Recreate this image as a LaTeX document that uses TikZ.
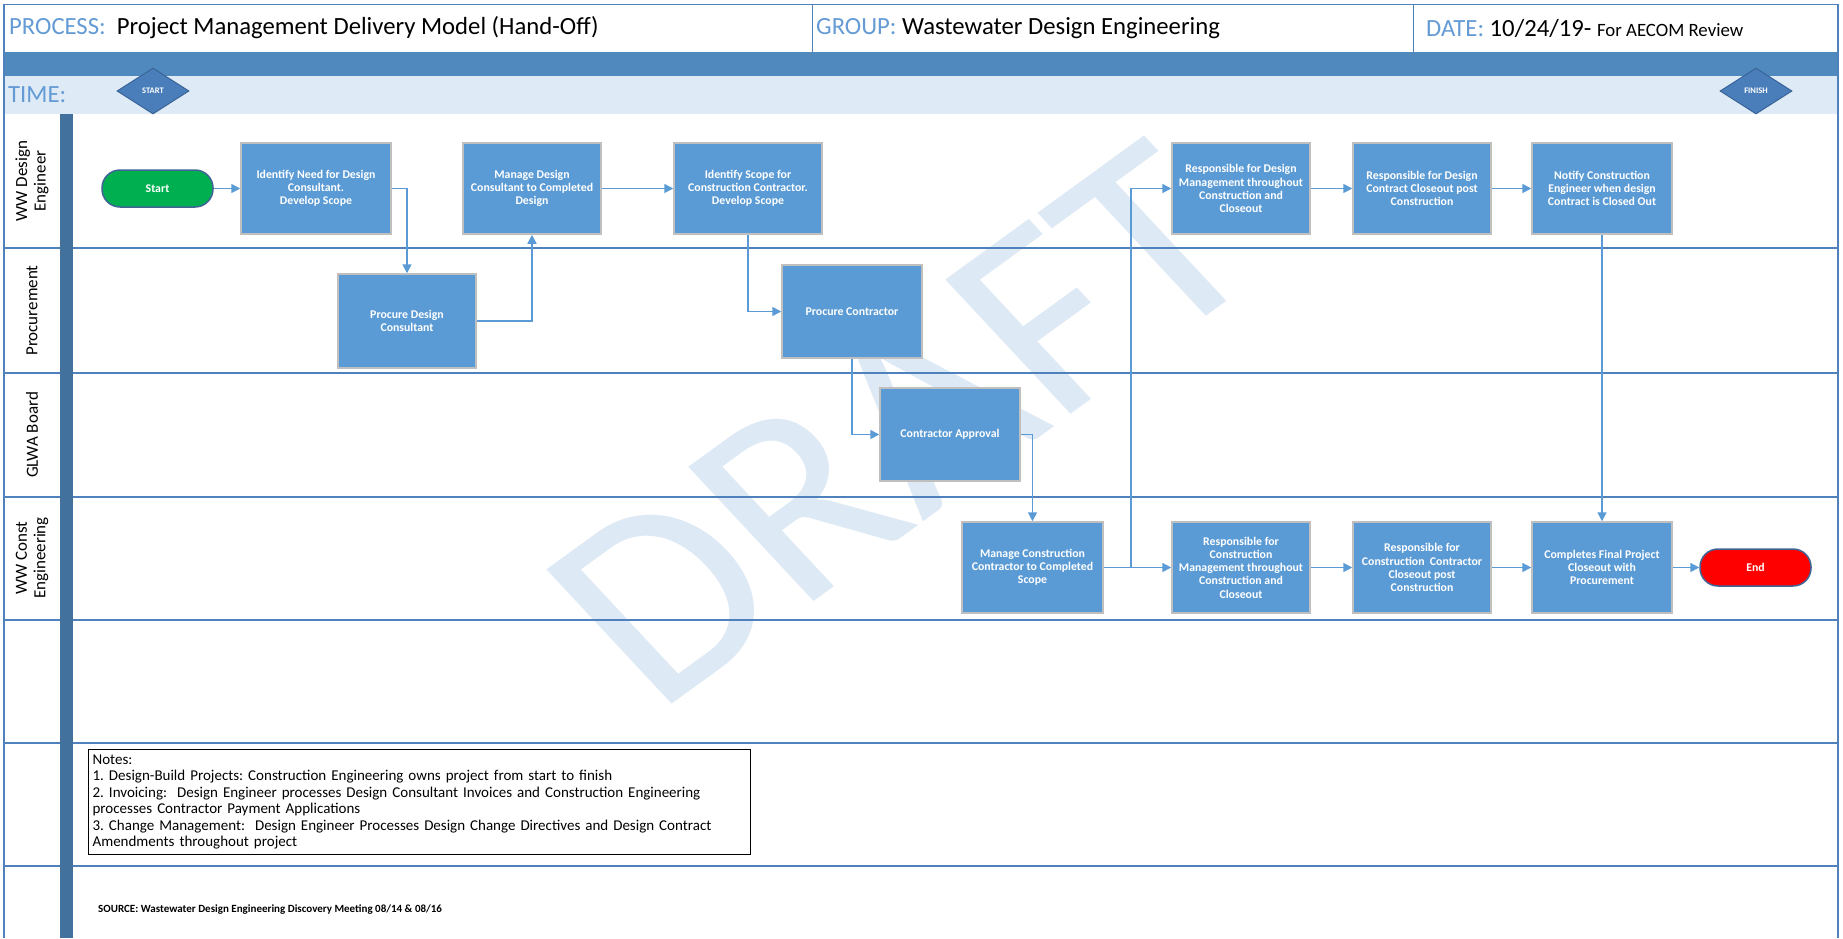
\documentclass[tikz,border=0pt]{standalone}
\usepackage{fontspec}
\setmainfont{Carlito}
\usetikzlibrary{arrows.meta,shapes.geometric}
\definecolor{hdrblue}{RGB}{100,155,213}
\definecolor{bandblue}{RGB}{79,137,189}
\definecolor{lightband}{RGB}{222,234,246}
\definecolor{barblue}{RGB}{65,113,156}
\definecolor{boxblue}{RGB}{91,155,213}
\definecolor{boxedge}{RGB}{191,191,191}
\definecolor{linecol}{RGB}{91,155,213}
\definecolor{sepcol}{RGB}{79,129,189}
\definecolor{diafill}{RGB}{74,126,187}
\definecolor{diaedge}{RGB}{58,100,150}
\definecolor{wmcol}{RGB}{221,233,245}
\definecolor{startgreen}{RGB}{0,176,80}
\definecolor{pilledge}{RGB}{65,100,150}
\frenchspacing
\begin{document}
\begin{tikzpicture}[x=1pt,y=-1pt,
  procbox/.style={draw=boxedge, line width=1.5pt, fill=boxblue, text=white,
    font=\bfseries\fontsize{11.8pt}{13.2pt}\selectfont, align=center, inner sep=0pt,
    minimum height=91pt},
  pill/.style={draw=pilledge, line width=1.5pt, rounded corners=18pt, text=white,
    font=\bfseries\fontsize{11.8pt}{13pt}\selectfont, minimum width=111pt,
    minimum height=37pt, inner sep=0pt},
  flow/.style={draw=linecol, line width=1.5pt, -{Triangle[length=9pt,width=9pt]}},
  sepline/.style={draw=sepcol, line width=1.5pt},
  lanelabel/.style={rotate=90, font=\fontsize{17pt}{18.5pt}\selectfont, align=center,
    text=black, inner sep=0pt},
  hdrtext/.style={anchor=west, inner sep=0pt, font=\fontsize{24.7pt}{28pt}\selectfont},
  timediamond/.style={diamond, draw=diaedge, line width=1pt, fill=diafill, text=white,
    font=\bfseries\fontsize{8.5pt}{9pt}\selectfont, minimum width=72pt,
    minimum height=46pt, inner sep=0pt, shape aspect=1.56},
]
\useasboundingbox (0,0) rectangle (1843,938);
\fill[white] (0,0) rectangle (1843,938);
% header
\draw[sepcol, line width=1pt] (4,4) rectangle (1838,52);
\draw[sepcol, line width=1pt] (812,4) -- (812,53);
\draw[sepcol, line width=1pt] (1413,4) -- (1413,52);
\node[hdrtext] (proc) at (9,28) {\textcolor{hdrblue}{PROCESS:}\ \ Project Management Delivery Model (Hand-Off)};
\node[hdrtext] (grp) at (816,28) {\textcolor{hdrblue}{GROUP:} Wastewater Design Engineering};
\node[hdrtext] (date) at (1426,28) {\textcolor{hdrblue}{DATE:} 10/24/19- {\fontsize{18.8pt}{20pt}\selectfont For AECOM Review}};
% bands
\fill[bandblue] (4,52) rectangle (1838,76);
\fill[lightband] (4,76) rectangle (1838,114);
\node[hdrtext, text=hdrblue] (time) at (8,95) {TIME:};
\node[timediamond] (startd) at (153,91) {START};
\node[timediamond] (finishd) at (1756,91) {FINISH};
% watermark
\node[text=wmcol, font=\fontsize{284pt}{284pt}\selectfont, anchor=base west, inner sep=0pt,
  rotate=36, xslant=-0.123] (wm) at (656,716) {DRAFT};
% lanes
\foreach \yy in {248,373,497,620,743,866} \draw[sepline] (4,\yy) -- (1838,\yy);
\draw[sepline] (4,4) -- (4,938);
\draw[sepline] (1838,4) -- (1838,938);
\fill[barblue] (60,114) rectangle (73,938);
\node[lanelabel] (l1) at (32,181) {WW Design\\Engineer};
\node[lanelabel] (l2) at (32,310.5) {Procurement};
\node[lanelabel] (l3) at (32,435) {GLWA Board};
\node[lanelabel] (l4) at (32,558) {WW Const\\Engineering};
% process nodes
\node[pill, fill=startgreen] (start) at (157.5,188.5) {Start};
\node[procbox, minimum width=150pt] (need) at (316,188.5) {Identify Need for Design\\Consultant.\\Develop Scope};
\node[procbox, minimum width=138pt] (mgd) at (532,188.5) {Manage Design\\Consultant to Completed\\Design};
\node[procbox, minimum width=148pt] (scope) at (748,188.5) {Identify Scope for\\Construction Contractor.\\Develop Scope};
\node[procbox, minimum width=138pt] (rdm) at (1241,188.5) {Responsible for Design\\Management throughout\\Construction and\\Closeout};
\node[procbox, minimum width=138pt] (rdc) at (1422,188.5) {Responsible for Design\\Contract Closeout post\\Construction};
\node[procbox, minimum width=140pt] (notify) at (1602,188.5) {Notify Construction\\Engineer when design\\Contract is Closed Out};
\node[procbox, minimum width=138pt, minimum height=94pt] (pdc) at (407,321) {Procure Design\\Consultant};
\node[procbox, minimum width=140pt, minimum height=93pt] (pc) at (852,311.5) {Procure Contractor};
\node[procbox, minimum width=140pt, minimum height=93pt] (ca) at (950,434.5) {Contractor Approval};
\node[procbox, minimum width=141pt] (mcc) at (1032.5,567.5) {Manage Construction\\Contractor to Completed\\Scope};
\node[procbox, minimum width=138pt] (rcm) at (1241,567.5) {Responsible for\\Construction\\Management throughout\\Construction and\\Closeout};
\node[procbox, minimum width=138pt] (rcc) at (1422,567.5) {Responsible for\\Construction\ \ Contractor\\Closeout post\\Construction};
\node[procbox, minimum width=140pt] (cfp) at (1602,567.5) {Completes Final Project\\Closeout with\\Procurement};
\node[pill, fill=red] (end) at (1755.5,567.5) {End};
% connectors
\draw[flow] (start) -- (need);
\draw[flow] (need.east) -| (pdc.north);
\draw[flow] (pdc.east) -| (mgd.south);
\draw[flow] (mgd) -- (scope);
\draw[flow] (scope.south) |- (pc.west);
\draw[flow] (pc.south) |- (ca.west);
\draw[flow] (ca.east) -| (mcc.north);
\draw[flow] (mcc) -- (rcm);
\coordinate (br) at (1131,567.5);
\draw[flow] (br) |- (rdm.west);
\draw[flow] (rdm) -- (rdc);
\draw[flow] (rdc) -- (notify);
\draw[flow] (notify) -- (cfp);
\draw[flow] (rcm) -- (rcc);
\draw[flow] (rcc) -- (cfp);
\draw[flow] (cfp) -- (end);
% notes
\node[draw=black, line width=1.2pt, anchor=north west, inner xsep=4pt, inner ysep=2pt,
  text width=654pt, minimum height=105pt, align=left,
  font=\fontsize{15pt}{16.5pt}\selectfont] (notes) at (88,749)
  {Notes:\\
   1. Design-Build Projects: Construction Engineering owns project from start to finish\\
   2. Invoicing:\ \ Design Engineer processes Design Consultant Invoices and Construction Engineering\\
   processes Contractor Payment Applications\\
   3. Change Management:\ \ Design Engineer Processes Design Change Directives and Design Contract\\
   Amendments throughout project};
\node[anchor=west, inner sep=0pt, font=\bfseries\fontsize{11pt}{12pt}\selectfont] (src) at (98,910)
  {SOURCE: Wastewater Design Engineering Discovery Meeting 08/14 \& 08/16};
\end{tikzpicture}
\end{document}
